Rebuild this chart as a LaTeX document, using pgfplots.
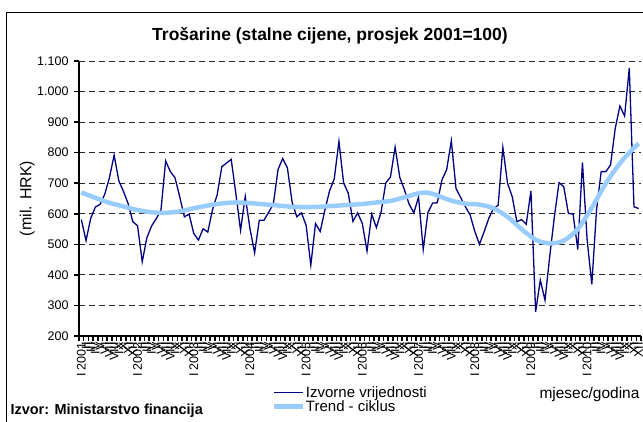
\documentclass[border=0pt]{standalone}
\usepackage{fontspec}
\setmainfont{Liberation Sans}
\usepackage{pgfplots}
\pgfplotsset{compat=1.18}
\definecolor{srcblue}{HTML}{000080}
\definecolor{trendblue}{HTML}{99CCFF}

\pgfplotstableread{
i v
0 581
1 512
2 585
3 622
4 631
5 664
6 718
7 792
8 708
9 673
10 633
11 574
12 561
13 443
14 522
15 560
16 584
17 612
18 773
19 738
20 718
21 656
22 590
23 599
24 536
25 514
26 551
27 540
28 613
29 662
30 754
31 766
32 778
33 665
34 546
35 657
36 552
37 472
38 579
39 579
40 605
41 632
42 745
43 781
44 750
45 638
46 590
47 603
48 562
49 432
50 568
51 542
52 612
53 675
54 714
55 837
56 701
57 667
58 575
59 603
60 568
61 478
62 599
63 555
64 605
65 701
66 720
67 818
68 719
69 678
70 631
71 603
72 655
73 483
74 604
75 635
76 636
77 711
78 744
79 839
80 683
81 653
82 623
83 597
84 543
85 500
86 541
87 585
88 617
89 628
90 817
91 700
92 656
93 574
94 581
95 566
96 675
97 279
98 383
99 317
100 459
101 590
102 702
103 689
104 601
105 599
106 483
107 768
108 514
109 369
110 612
111 738
112 738
113 760
114 880
115 953
116 920
117 1077
118 623
119 617
}\srcdata

\pgfplotstableread{
i v
0 670
3 652
6 636
9 624
12 612
15 605
18 603
21 608
24 618
27 627
30 634
33 637
36 635
39 631
42 627
45 623
48 622
51 623
54 626
57 629
60 632
63 637
66 642
69 654
72 667
74 669
76 660
79 643
82 633
85 630
88 618
91 590
94 550
97 515
100 503
103 512
106 550
109 620
112 700
115 765
117 800
119 830
}\trenddata

\begin{document}
\begin{tikzpicture}
\begin{axis}[
  at={(79pt,86pt)}, anchor=south west,
  scale only axis, width=562pt, height=275pt,
  xmin=-0.5, xmax=119.5, ymin=200, ymax=1100,
  axis x line*=bottom, axis y line*=left,
  axis line style={line width=2.5pt, black},
  clip=false,
  ytick={200,300,...,1100},
  ymajorgrids,
  grid style={dash pattern=on 6pt off 4pt, line width=0.8pt, black!85},
  tick align=outside, major tick length=5pt,
  tick style={line width=1.6pt, black},
  /pgf/number format/assume math mode=true,
  /pgf/number format/1000 sep={.},
  yticklabel style={font=\fontsize{12.5}{14}\selectfont, xshift=-2pt},
  xtick={-0.5,0.5,...,119.5},
  xticklabels={},
  extra x ticks={0,1,...,119},
  extra x tick style={tick style={draw=none}, grid=none},
  extra x tick labels={I 2001,II,III,IV,V,VI,VII,VIII,IX,X,XI,XII,
    I 2002,II,III,IV,V,VI,VII,VIII,IX,X,XI,XII,
    I 2003,II,III,IV,V,VI,VII,VIII,IX,X,XI,XII,
    I 2004,II,III,IV,V,VI,VII,VIII,IX,X,XI,XII,
    I 2005,II,III,IV,V,VI,VII,VIII,IX,X,XI,XII,
    I 2006,II,III,IV,V,VI,VII,VIII,IX,X,XI,XII,
    I 2007,II,III,IV,V,VI,VII,VIII,IX,X,XI,XII,
    I 2008,II,III,IV,V,VI,VII,VIII,IX,X,XI,XII,
    I 2009,II,III,IV,V,VI,VII,VIII,IX,X,XI,XII,
    I 2010,II,III,IV,V,VI,VII,VIII,IX,X,XI,XII},
  xticklabel style={rotate=90, anchor=east, font=\fontsize{12.5}{14}\selectfont, inner sep=1pt},
  ylabel={(mil. HRK)},
  ylabel style={font=\fontsize{16}{18}\selectfont, at={(-0.092,0.5)}, anchor=center},
  legend style={at={(0.343,-0.18)}, anchor=north west, draw=none, fill=none,
    font=\fontsize{15}{16}\selectfont, inner sep=0pt, row sep=1pt,
    nodes={inner sep=0.5pt}, cells={anchor=west}},
  legend image code/.code={\draw[#1] (0pt,0pt) -- (29pt,0pt);},
]
\addplot[srcblue, line width=1.3pt] table[x=i, y=v] {\srcdata};
\addlegendentry{Izvorne vrijednosti}
\addplot[trendblue, line width=4.5pt, smooth] table[x=i, y=v] {\trenddata};
\addlegendentry{Trend - ciklus}
\end{axis}
\draw[line width=1pt] (6pt,-5pt) -- (6pt,409pt) -- (650pt,409pt);
\node[font=\bfseries\fontsize{17.5}{20}\selectfont] at (330pt,386pt) {Trošarine (stalne cijene, prosjek 2001=100)};
\node[font=\fontsize{15.5}{17}\selectfont, anchor=east] at (643pt,28pt) {mjesec/godina};
\node[font=\bfseries\fontsize{14.5}{16}\selectfont, anchor=west] at (7pt,11pt) {Izvor: Ministarstvo financija};
\pgfresetboundingbox
\path[use as bounding box] (0,0) rectangle (643pt,422pt);
\end{tikzpicture}
\end{document}
